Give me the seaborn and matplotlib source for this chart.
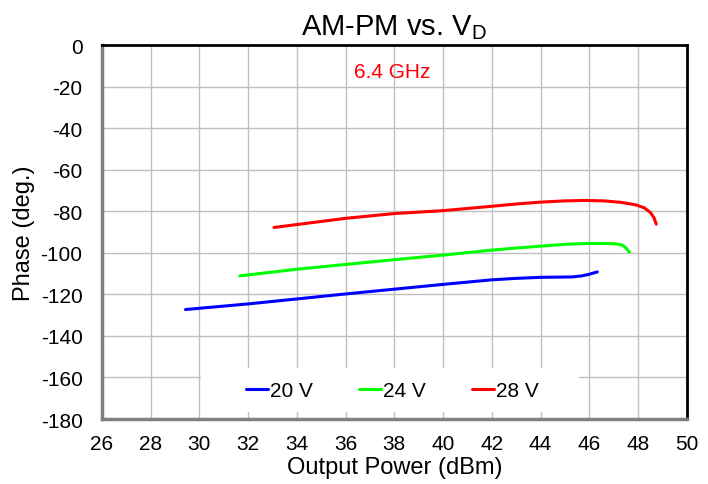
import matplotlib
matplotlib.use("Agg")
import matplotlib.pyplot as plt
import pandas as pd
import seaborn as sns
from matplotlib.patches import Rectangle

# AM-PM curves, per drain voltage
pout_20v = [29.43, 30.0, 32.0, 34.0, 36.0, 38.0, 40.0, 42.0, 43.0, 44.0,
            44.7, 45.3, 45.7, 46.0, 46.33]
phase_20v = [-127.3, -126.7, -124.6, -122.2, -119.8, -117.5, -115.2, -113.0, -112.3, -111.8,
             -111.7, -111.6, -111.1, -110.3, -109.2]

pout_24v = [31.66, 34.0, 36.0, 38.0, 40.0, 42.0, 43.0, 44.0, 45.0, 46.0,
            46.6, 47.1, 47.35, 47.5, 47.65]
phase_24v = [-111.1, -107.9, -105.6, -103.3, -101.1, -98.7, -97.7, -96.8, -95.9, -95.5,
             -95.5, -95.7, -96.3, -97.6, -99.7]

pout_28v = [33.06, 36.0, 38.0, 40.0, 42.0, 43.0, 44.0, 45.0, 45.8, 46.6,
            47.3, 47.9, 48.25, 48.5, 48.65, 48.75]
phase_28v = [-87.8, -83.4, -81.1, -79.7, -77.6, -76.5, -75.6, -75.0, -74.8, -75.0,
             -75.7, -76.9, -78.3, -80.5, -83.0, -86.2]

voltages = ["20 V", "24 V", "28 V"]
colors = ["#0000ff", "#00ff00", "#ff0000"]
x_ticks = list(range(26, 51, 2))
y_ticks = list(range(-180, 1, 20))

frames = []
for v, xs, ys in zip(voltages,
                     [pout_20v, pout_24v, pout_28v],
                     [phase_20v, phase_24v, phase_28v]):
    frames.append(pd.DataFrame({"pout": xs, "phase": ys, "vd": v}))
df = pd.concat(frames, ignore_index=True)

sns.set_theme(style="white")
plt.rcParams["font.family"] = ["Liberation Sans", "DejaVu Sans"]
plt.rcParams["axes.unicode_minus"] = False
plt.rcParams["text.color"] = "black"

fig = plt.figure(figsize=(7.08, 4.85), dpi=100)
ax = fig.add_axes([0.144, 0.134, 0.826, 0.771])

sns.lineplot(data=df, x="pout", y="phase", hue="vd", palette=colors,
             sort=False, estimator=None, linewidth=2.2, ax=ax, zorder=3)

ax.set_xlim(26, 50)
ax.set_ylim(-180, 0)
ax.set_xticks(x_ticks)
ax.set_yticks(y_ticks)
ax.grid(True, color="#c0c0c0", linewidth=1)
for side in ["top", "right"]:
    ax.spines[side].set_color("black")
    ax.spines[side].set_linewidth(2)
for side in ["left", "bottom"]:
    ax.spines[side].set_color("#808080")
    ax.spines[side].set_linewidth(2.5)
ax.tick_params(axis="both", labelsize=15, colors="black", length=0)
ax.tick_params(axis="x", pad=11)
ax.tick_params(axis="y", pad=14)

ax.set_xlabel("Output Power (dBm)", fontsize=17, color="black", labelpad=2)
ax.set_ylabel("Phase (deg.)", fontsize=17, color="black", labelpad=4)
ax.set_title(r"AM-PM vs. V$_\mathregular{D}$", fontsize=21, color="black", pad=8)

ax.text(37.9, -12.5, "6.4 GHz", color="#ff0000", fontsize=15,
        ha="center", va="center")

# white patch behind the legend, hiding the grid like the original
ax.add_patch(Rectangle((0.170, 0.02), 0.645, 0.116, transform=ax.transAxes,
                       facecolor="white", edgecolor="none", zorder=2))

leg = ax.legend(loc="center", bbox_to_anchor=(0.497, 0.075), ncol=3,
                fontsize=15, frameon=False, handlelength=1.07,
                handletextpad=0.1, columnspacing=2.2)
for t in leg.get_texts():
    t.set_color("black")

fig.savefig("out.png", dpi=100)
